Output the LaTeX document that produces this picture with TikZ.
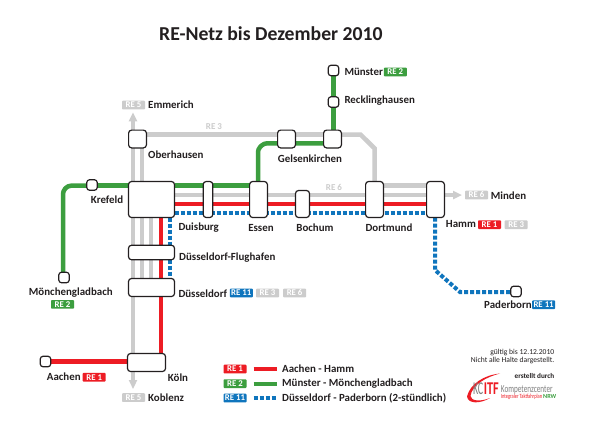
\documentclass[tikz,border=0pt]{standalone}
\usepackage{fontspec}
\setmainfont{Carlito}
\usetikzlibrary{arrows.meta,backgrounds}
\definecolor{regrey}{HTML}{CCCCCC}
\definecolor{regreen}{HTML}{3C9E3F}
\definecolor{rered}{HTML}{ED1C24}
\definecolor{reblue}{HTML}{0F75BD}
\definecolor{retext}{HTML}{231F20}
\tikzset{
  stn/.style={draw=retext,fill=white,line width=1.2pt,rounded corners=3pt,inner sep=0pt,outer sep=0pt,minimum width=#1},
  stnh/.style={minimum height=#1},
  lbl/.style={font=\fontsize{10.9}{12}\selectfont\bfseries,text=retext,inner sep=0pt,anchor=west},
  lblc/.style={lbl,anchor=center},
  badge/.style={fill=#1,text=white,font=\fontsize{8.8}{9}\selectfont\bfseries,rounded corners=0.8pt,inner sep=0pt,minimum width=23pt,minimum height=8.6pt,text height=5.6pt,text depth=0pt},
  ingrey/.style={text=regrey,font=\fontsize{9}{9}\selectfont\bfseries,inner sep=0pt},
  lgrey/.style={draw=regrey,line width=4.5pt},
  lgreen/.style={draw=regreen,line width=4.5pt},
  lred/.style={draw=rered,line width=4.5pt},
  lblue/.style={draw=reblue,line width=4pt,dash pattern=on 4pt off 2pt},
  tip/.style={-{Triangle[length=9pt,width=8pt]}},
  small/.style={font=\fontsize{7.6}{8}\selectfont,text=retext,inner sep=0pt,anchor=east},
  logo/.style={inner sep=0pt,anchor=west}
}
\begin{document}
\begin{tikzpicture}[x=1pt,y=-1pt]
\useasboundingbox (0,0) rectangle (600,440);
% stations
\node[stn=17.8pt,stnh=17.8pt] (ober) at (137.5,139) {};
\node[stn=46pt,stnh=36pt] (hub) at (151.5,199.5) {};
\node[stn=9.6pt,stnh=36pt] (duis) at (208,199.5) {};
\node[stn=17.8pt,stnh=36pt] (essen) at (258.5,199.5) {};
\node[stn=14pt,stnh=27pt] (boch) at (302.5,204) {};
\node[stn=17.8pt,stnh=36pt] (dort) at (374.5,199.5) {};
\node[stn=17.8pt,stnh=36pt] (hamm) at (435.5,199.5) {};
\node[stn=17.8pt,stnh=17.8pt] (gels) at (286.5,139) {};
\node[stn=17.8pt,stnh=17.8pt] (gelsb) at (332.5,139) {};
\node[stn=10.6pt,stnh=10.6pt] (muen) at (333.5,70.5) {};
\node[stn=10.6pt,stnh=10.6pt] (reck) at (333.5,102) {};
\node[stn=10.6pt,stnh=10.6pt] (kref) at (92,185) {};
\node[stn=10.6pt,stnh=10.6pt] (mg) at (64,277.5) {};
\node[stn=46pt,stnh=14.5pt] (flug) at (151.5,252.5) {};
\node[stn=46pt,stnh=18pt] (dues) at (151.5,287.5) {};
\node[stn=38pt,stnh=18pt] (koeln) at (146.5,362.5) {};
\node[stn=10.6pt,stnh=10.6pt] (aach) at (45.5,361.5) {};
\node[stn=10.6pt,stnh=10.6pt] (pad) at (516,291.5) {};
\coordinate (emm) at (133,112.3);
\coordinate (kob) at (133,389);
\coordinate (mind) at (462,195);
\begin{pgfonlayer}{background}
\fill[white] (0,0) rectangle (600,440);
% grey
\draw[lgrey,tip] (ober.north -| emm) -- (emm);
\draw[lgrey] (ober.south -| 133,0) -- (hub.north -| 133,0);
\draw[lgrey] (ober.south -| 142,0) -- (hub.north -| 142,0);
\draw[lgrey] (hub.south -| 133,0) -- (flug.north -| 133,0);
\draw[lgrey] (hub.south -| 142,0) -- (flug.north -| 142,0);
\draw[lgrey] (hub.south -| 151,0) -- (flug.north -| 151,0);
\draw[lgrey] (flug.south -| 133,0) -- (dues.north -| 133,0);
\draw[lgrey] (flug.south -| 142,0) -- (dues.north -| 142,0);
\draw[lgrey] (flug.south -| 151,0) -- (dues.north -| 151,0);
\draw[lgrey] (dues.south -| 133,0) -- (koeln.north -| 133,0);
\draw[lgrey,tip] (koeln.south -| 133,0) -- (kob);
\draw[lgrey] (ober.east |- 0,134.7) -- (gelsb.west |- 0,134.7);
\draw[lgrey] (gelsb.east |- 0,134.7) -- (360.7,134.7) -- (374.7,148.5) -- (dort.north -| 374.7,0);
\draw[lgrey,tip] (hub.east |- mind) -- (mind);
\draw[lgrey] (dort.east |- 0,185.7) -- (hamm.west |- 0,185.7);
% red
\draw[lred] (hub.east |- 0,204) -- (hamm.west |- 0,204);
\draw[lred] (hub.south -| 161,0) -- (koeln.north -| 161,0);
\draw[lred] (aach) -- (koeln.west |- aach);
% green
\draw[lgreen] (hub.east |- 0,185.7) -- (essen.west |- 0,185.7);
\draw[lgreen] (hub.west |- 0,185.7) -- (kref.east |- 0,185.7);
\draw[lgreen,rounded corners=3pt] (kref.west |- 0,185.7) -- (68,185.7) -- (63,191) -- (mg.north -| 63,0);
\draw[lgreen,rounded corners=3pt] (essen.north -| 258,0) -- (258,149) -- (264,143.3) -- (gelsb.west |- 0,143.3);
\draw[lgreen] (muen) -- (gelsb.north -| muen);
% blue
\draw[lblue] (hub.east |- 0,213.3) -- (hamm.west |- 0,213.3);
\draw[lblue] (hub.south -| 170,0) -- (dues.north -| 170,0);
\draw[lblue] (hamm.south -| 435,0) -- (435,270) -- (460,292) -- (pad.west |- 0,292);
\end{pgfonlayer}
% title
\node[lbl,font=\fontsize{19.7}{22}\selectfont\bfseries] (title) at (159,33.5) {RE-Netz bis Dezember 2010};
% labels
\node[badge=regrey] (b1) at (133.5,105) {RE 5};
\node[lbl] (t1) at (148,105) {Emmerich};
\node[ingrey] (r3) at (214,126.3) {RE 3};
\node[ingrey] (r6) at (334,187) {RE 6};
\node[lbl] (t2) at (148,155) {Oberhausen};
\node[lbl] (t3) at (90.7,200) {Krefeld};
\node[lbl] (t4) at (277.7,158.7) {Gelsenkirchen};
\node[lbl] (t5) at (344.3,72) {Münster};
\node[badge=regreen] (b5) at (395.3,72) {RE 2};
\node[lbl] (t6) at (344.3,101) {Recklinghausen};
\node[badge=regrey] (b7) at (476.5,195) {RE 6};
\node[lbl] (t7) at (490.7,196) {Minden};
\node[lbl] (t8) at (445.7,224) {Hamm};
\node[badge=rered] (b8) at (489.5,224.7) {RE 1};
\node[badge=regrey] (b9) at (516.2,224.7) {RE 3};
\node[lbl] (t9) at (178.3,227.7) {Duisburg};
\node[lblc] (t10) at (261,227.7) {Essen};
\node[lblc] (t11) at (315,227.7) {Bochum};
\node[lblc] (t12) at (389,227.7) {Dortmund};
\node[lbl] (t13) at (179,257.5) {Düsseldorf-Flughafen};
\node[lbl] (t14) at (178.3,293.3) {Düsseldorf};
\node[badge=reblue] (b14) at (241.3,293) {RE 11};
\node[badge=regrey] (b15) at (267.5,293) {RE 3};
\node[badge=regrey] (b16) at (294.6,293) {RE 6};
\node[lblc] (t15) at (70.8,292.7) {Mönchengladbach};
\node[badge=regreen] (b17) at (62.5,304.3) {RE 2};
\node[lbl] (t16) at (46.7,377) {Aachen};
\node[badge=rered] (b18) at (94.2,377.2) {RE 1};
\node[lbl] (t17) at (167.7,378) {Köln};
\node[lbl] (t18) at (148,398) {Koblenz};
\node[badge=regrey] (b19) at (133.5,397.5) {RE 5};
\node[lbl] (t19) at (484,304.7) {Paderborn};
\node[badge=reblue] (b20) at (543.6,304.7) {RE 11};
% legend
\node[badge=rered] (l1) at (235,369) {RE 1};
\node[badge=regreen] (l2) at (235,383.7) {RE 2};
\node[badge=reblue] (l3) at (235,398) {RE 11};
\coordinate (l1a) at (253.7,369); \coordinate (l1b) at (277.3,369);
\coordinate (l2a) at (253.7,383.7); \coordinate (l2b) at (277.3,383.7);
\coordinate (l3a) at (253.7,398); \coordinate (l3b) at (277.3,398);
\draw[lred,line width=4pt] (l1a) -- (l1b);
\draw[lgreen,line width=4pt] (l2a) -- (l2b);
\draw[lblue] (l3a) -- (l3b);
\node[lbl] (n1) at (282,369) {Aachen - Hamm};
\node[lbl] (n2) at (282,383.7) {Münster - Mönchengladbach};
\node[lbl] (n3) at (282,398) {Düsseldorf - Paderborn (2-stündlich)};
% notes
\node[small] (g1) at (554.5,352.7) {gültig bis 12.12.2010};
\node[small] (g2) at (554.5,360.3) {Nicht alle Halte dargestellt.};
\node[small,font=\fontsize{7.2}{8}\selectfont\bfseries] (g3) at (554.5,376) {erstellt durch};
% logo
\fill[rered] (467,396.5) .. controls (470,384) and (484,375) .. (500,373.5)
  .. controls (486,377) and (472,385) .. (470.5,396) .. controls (471,401) and (480,402) .. (490,398)
  .. controls (480,404) and (468,404) .. (467,396.5) -- cycle;
\node[logo,text=gray,font=\fontsize{18}{18}\selectfont] (k1) at (472.8,389) {\scalebox{0.56}[1]{KC}};
\node[logo,text=rered,font=\fontsize{18}{18}\selectfont\bfseries] (k2) at (483.6,389) {\scalebox{0.68}[1]{ITF}};
\node[logo,text=gray,font=\fontsize{10.6}{12}\selectfont] (k3) at (500.7,389.5) {\scalebox{0.68}[1]{Kompetenzcenter}};
\node[logo,text=rered,font=\fontsize{6.4}{7}\selectfont] (k4) at (500.7,396.7) {\scalebox{0.7}[1]{Integraler Taktfahrplan}};
\node[logo,text=regreen,font=\fontsize{6.2}{7}\selectfont\bfseries] (k5) at (543,396.7) {NRW};
\end{tikzpicture}
\end{document}
